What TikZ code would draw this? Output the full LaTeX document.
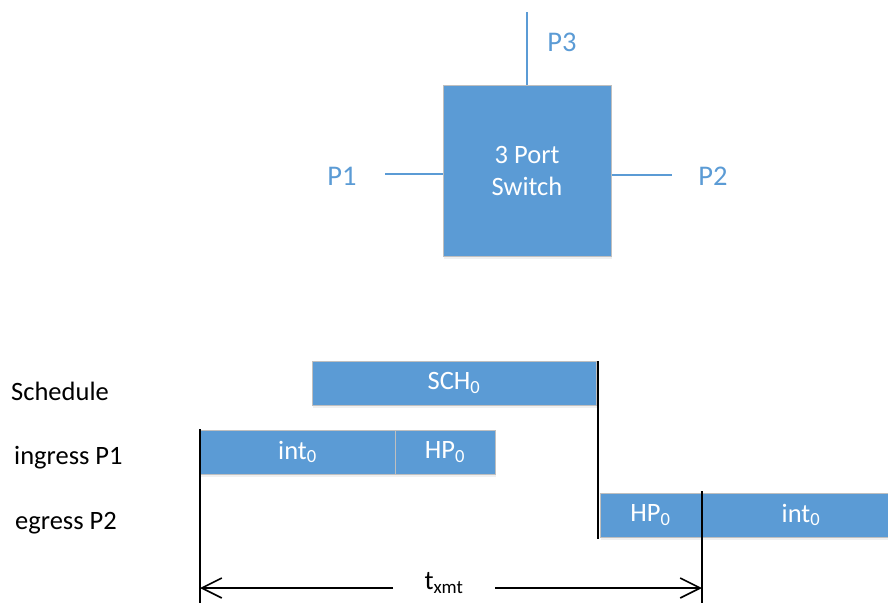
\documentclass[tikz,border=0pt]{standalone}
\usepackage{fontspec}
\setmainfont{Carlito}
\usetikzlibrary{arrows.meta,shadows}
\definecolor{sblue}{HTML}{5B9BD5}
\definecolor{sgray}{HTML}{BFBFBF}
\tikzset{
  blk/.style={fill=sblue, draw=sgray, line width=1pt, text=white, inner sep=0pt,
    font=\fontsize{26.5}{32}\selectfont,
    drop shadow={opacity=0.12, shadow xshift=1pt, shadow yshift=-3pt}},
  portline/.style={draw=sblue, line width=2pt},
  portlbl/.style={text=sblue, font=\fontsize{28.5}{32}\selectfont, inner sep=0pt},
  rowlbl/.style={font=\fontsize{26.5}{30}\selectfont, anchor=west, inner sep=0pt},
  mark line/.style={draw=black, line width=1.6pt},
  dim/.style={draw=black, line width=1.6pt, -{Straight Barb[length=20pt,width=20pt,line width=1.6pt]}},
}
\begin{document}
\begin{tikzpicture}[x=1pt,y=-1pt]
\useasboundingbox (0,0) rectangle (888,603);
% switch
\node[blk, minimum width=168pt, minimum height=171pt, align=center] (sw) at (527,170.5) {3 Port\\Switch};
\coordinate (p3e) at (527,12);
\coordinate (p1e) at (385,174);
\coordinate (p2e) at (672,175);
\draw[portline] (sw.north) -- (p3e);
\draw[portline] (sw.west |- p1e) -- (p1e);
\draw[portline] (sw.east |- p2e) -- (p2e);
\node[portlbl] (p3) at (562,42) {P3};
\node[portlbl] (p1) at (342,176) {P1};
\node[portlbl] (p2) at (713,176) {P2};
% row labels
\node[rowlbl] (lsch) at (11,391) {Schedule};
\node[rowlbl] (ling) at (14,458) {ingress P1};
\node[rowlbl] (legr) at (15,523) {egress P2};
% timeline boxes
\node[blk, minimum width=284pt, minimum height=44pt] (sch) at (454,383) {SCH\textsubscript{0}};
\node[blk, minimum width=195pt, minimum height=44pt] (int1) at (297.5,452) {int\textsubscript{0}};
\node[blk, minimum width=100pt, minimum height=44pt] (hp1) at (445,452) {HP\textsubscript{0}};
\node[blk, minimum width=101pt, minimum height=44pt] (hp2) at (650.5,515) {HP\textsubscript{0}};
\node[blk, minimum width=200pt, minimum height=44pt] (int2) at (801,515) {int\textsubscript{0}};
% marker lines
\coordinate (a1) at (200,429);
\coordinate (a2) at (200,603);
\coordinate (b1) at (598,361);
\coordinate (b2) at (598,539);
\coordinate (c1) at (702,491);
\coordinate (c2) at (702,603);
\draw[mark line] (a1) -- (a2);
\draw[mark line] (b1) -- (b2);
\draw[mark line] (c1) -- (c2);
% dimension
\node[font=\fontsize{27}{30}\selectfont, inner sep=0pt] (tx) at (444,583) {t\textsubscript{xmt}};
\coordinate (la) at (200,588);
\coordinate (ra) at (702,588);
\coordinate (la0) at (393,588);
\coordinate (ra0) at (495,588);
\draw[dim] (la0) -- (la);
\draw[dim] (ra0) -- (ra);
\end{tikzpicture}
\end{document}
